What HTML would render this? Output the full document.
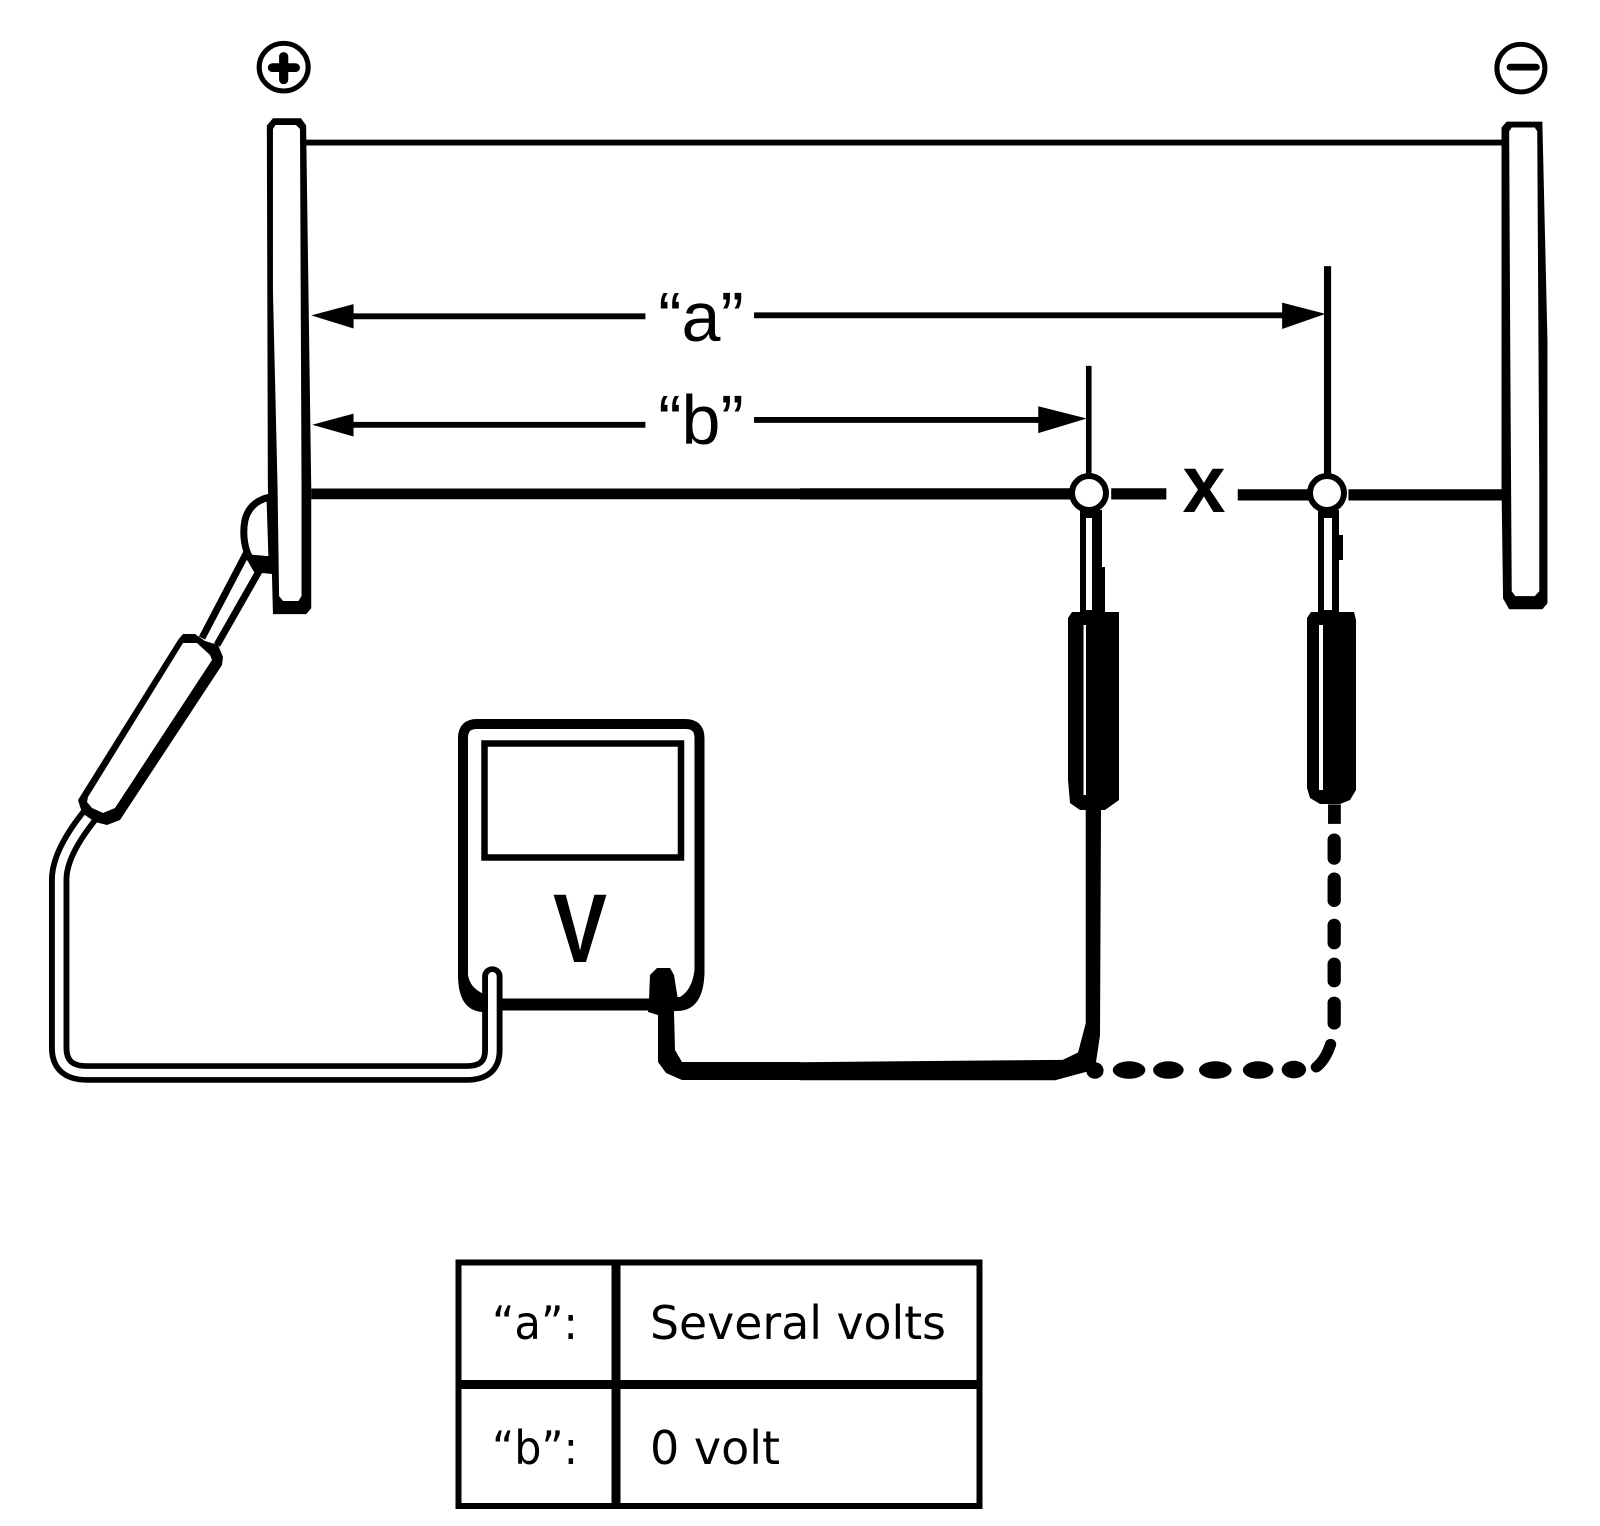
<!DOCTYPE html>
<html>
<head>
<meta charset="utf-8">
<style>
html,body{margin:0;padding:0;background:#fff;}
svg{display:block;}
text{fill:#000;}
</style>
</head>
<body>
<svg xmlns="http://www.w3.org/2000/svg" width="1600" height="1526" viewBox="0 0 1600 1526">
<rect width="1600" height="1526" fill="#fff"/>

<!-- Q1 -->
<g transform="scale(0.5102,0.4866)" fill="none" stroke="#000">
  <ellipse cx="556" cy="138" rx="48" ry="49" stroke-width="10"/>
  <path d="M534 139H579M556 116V164" stroke-width="18" stroke-linecap="round"/>
  <path d="M523 258L535 243H590L600 258L610 1000V1250L600 1262H535L533 1180L525 1000Z" fill="#000" stroke="none"/>
  <path d="M535 265L540 257H580L588 265L591 1000V1225L585 1235H555L547 1225L544 1000L535 600Z" fill="#fff" stroke="none"/>
  <path d="M600 293H1568" stroke-width="12"/>
  <path d="M690 650H1265M690 873H1265" stroke-width="12"/>
  <path d="M1478 648H1568M1478 863H1568" stroke-width="12"/>
  <path d="M610 648L693 625V675Z" fill="#000" stroke="none"/>
  <path d="M612 873L693 850V897Z" fill="#000" stroke="none"/>
  <path d="M610 1015H1568" stroke-width="22"/>
</g>

<!-- Q2 -->
<g transform="translate(800,0) scale(0.5102,0.4866)" fill="none" stroke="#000">
  <ellipse cx="1413" cy="140" rx="47" ry="49" stroke-width="10"/>
  <path d="M1392 138H1443" stroke-width="14" stroke-linecap="round"/>
  <path d="M0 293H1380" stroke-width="12"/>
  <path d="M1375 262L1385 250H1455L1465 700V1240L1455 1252H1390L1378 1230L1375 1000Z" fill="#000" stroke="none"/>
  <path d="M1390 270L1395 262H1440L1445 270L1449 1000V1215L1440 1225H1402L1395 1215L1392 700Z" fill="#fff" stroke="none"/>
  <path d="M0 648H950M0 863H470" stroke-width="12"/>
  <path d="M1030 645L945 622V676Z" fill="#000" stroke="none"/>
  <path d="M562 860L467 835V890Z" fill="#000" stroke="none"/>
  <path d="M1034 547V975" stroke-width="14"/>
  <path d="M566 752V975" stroke-width="11"/>
  <path d="M0 1015H530M610 1015H718M858 1017H1000M1075 1017H1380" stroke-width="23"/>
</g>

<!-- Meter -->
<g fill="none" stroke="#000">
  <path d="M463 975V738Q463 724 477 724H685Q699.500 724 699.500 738V975" stroke-width="10"/>
  <path d="M482 1004.500H675" stroke-width="12"/>
  <path d="M484.500 743.500H681V857.500H484.500Z" stroke-width="6.500"/>
</g>
<path d="M458 975Q458 1010 482 1012H492V994H484Q470 988 468 975Z" fill="#000"/>
<path d="M704.500 970Q704.500 1010 678 1011H665V997H680Q692 990 694.500 970Z" fill="#000"/>
<path d="M650 975L657 968H670L674 975L678 1000L674 1012L675 1050L682 1062H800V1080H682L666 1073L658 1062V1015L648 1012L649 1000Z" fill="#000"/>

<!-- Cable to meter -->
<g transform="translate(0,763) scale(0.5102,0.4866)" fill="none">
  <path d="M965 438V590Q965 637 915 637H170Q116 637 116 585V240Q116 185 178 105" stroke="#000" stroke-width="40" stroke-linecap="round"/>
  <path d="M965 438V590Q965 637 915 637H170Q116 637 116 585V240Q116 185 178 105" stroke="#fff" stroke-width="17" stroke-linecap="round"/>
</g>

<!-- Left clip and probe -->
<path d="M270 497C256 500 248 508 245 520C242 535 245 550 250 558L272 560Z" fill="#fff" stroke="#000" stroke-width="7"/>
<path d="M247 552L202 638M262 566L217 645" fill="none" stroke="#000" stroke-width="7"/>
<path d="M246 558L272 560V574L262 573L254 572Z" fill="#000"/>
<path d="M178 640L183 634L195 634L205 641L218 645L223 657L222 665L120 820L107 825L95 822L82 813L78 800Z" fill="#000"/>
<path d="M183 643L197 643L210 655L212 660L115 808L103 813L92 808L87 802L88 797Z" fill="#fff"/>

<!-- Probe 1 -->
<path d="M1080 510H1102V567H1105V612H1080Z" fill="#000"/>
<path d="M1086 518H1092V610H1086Z" fill="#fff"/>
<path d="M1068 618L1072 612H1119V800L1105 810H1080L1070 803L1068 780Z" fill="#000"/>
<path d="M1083.500 625H1086V795H1083.500Z" fill="#fff"/>
<circle cx="1089" cy="493" r="17" fill="#fff" stroke="#000" stroke-width="6"/>

<!-- Probe 2 -->
<path d="M1318 510H1339V535H1343V560H1339V612H1318Z" fill="#000"/>
<path d="M1324 518H1332V610H1324Z" fill="#fff"/>
<path d="M1307 618L1311 612H1354L1356 620V790L1350 800L1340 804H1320L1310 798L1307 788Z" fill="#000"/>
<path d="M1319 625H1323V790H1319Z" fill="#fff"/>
<circle cx="1327" cy="493" r="17" fill="#fff" stroke="#000" stroke-width="6"/>

<!-- Solid lead and dashed lead -->
<g transform="translate(800,763) scale(0.5102,0.4866)" fill="#000" stroke="none">
  <path d="M560 90H590L588 560L578 630L500 652H0V615L515 610L545 595L560 535Z"/>
  <circle cx="578" cy="632" r="17"/>
  <path d="M1035 85H1060V125H1035Z"/>
  <g fill="none" stroke="#000" stroke-width="26" stroke-linecap="round">
    <path d="M1047 158V196M1047 238V283M1047 333V370M1047 413V448M1047 493V535"/>
    <path d="M1040 578Q1030 610 1012 625" stroke-width="22"/>
  </g>
  <ellipse cx="645" cy="631" rx="32" ry="18"/>
  <ellipse cx="722" cy="631" rx="30" ry="18"/>
  <ellipse cx="814" cy="631" rx="32" ry="18"/>
  <ellipse cx="898" cy="631" rx="30" ry="18"/>
  <ellipse cx="968" cy="630" rx="24" ry="18"/>
</g>

<!-- Table -->
<g fill="none" stroke="#000">
  <rect x="458.500" y="1262.500" width="521" height="243.500" stroke-width="6"/>
  <path d="M616 1262V1506" stroke-width="9"/>
  <path d="M458 1384.500H980" stroke-width="9"/>
</g>

<!-- Labels -->
<g font-family="'Liberation Sans',sans-serif" text-anchor="middle">
  <text x="701" y="341" font-size="70">“a”</text>
  <text x="701" y="444" font-size="70">“b”</text>
  <text x="1204" y="512" font-size="82" font-weight="bold" textLength="43" lengthAdjust="spacingAndGlyphs">x</text>
  <text x="580" y="962" font-size="97" font-weight="bold" textLength="54" lengthAdjust="spacingAndGlyphs">V</text>
</g>
<g font-family="'DejaVu Sans',sans-serif" font-size="46">
  <text x="492" y="1339" textLength="86" lengthAdjust="spacingAndGlyphs">“a”:</text>
  <text x="492" y="1464" textLength="86" lengthAdjust="spacingAndGlyphs">“b”:</text>
  <text x="650" y="1339" textLength="296" lengthAdjust="spacingAndGlyphs">Several volts</text>
  <text x="650" y="1464">0 volt</text>
</g>
</svg>
</body>
</html>
